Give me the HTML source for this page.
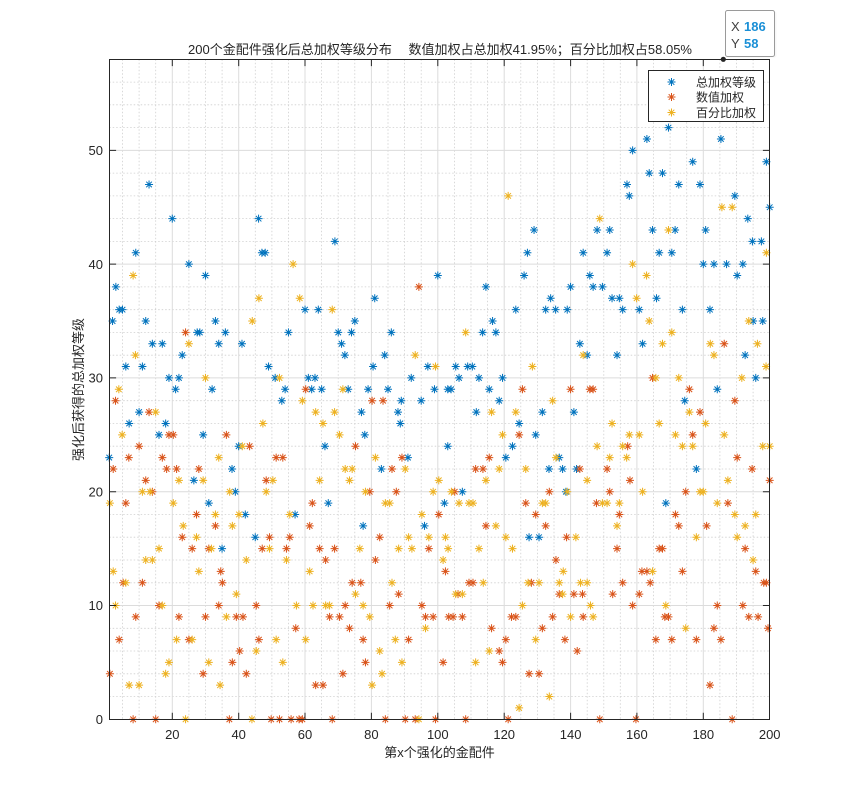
<!DOCTYPE html>
<html><head><meta charset="utf-8"><style>
html,body{margin:0;padding:0;background:#fff;}
svg{display:block;}
text{font-family:"Liberation Sans","Noto Sans CJK SC",sans-serif;fill:#262626;}
</style></head><body>
<svg width="849" height="807" viewBox="0 0 849 807" xmlns="http://www.w3.org/2000/svg">
<defs>
<path id="b" transform="scale(0.301295,-0.087881)" d="M-4 0H4M0-4V4M-2.8-2.8L2.8 2.8M-2.8 2.8L2.8-2.8" stroke="#0072BD" stroke-width="1" fill="none"/>
<path id="r" transform="scale(0.301295,-0.087881)" d="M-4 0H4M0-4V4M-2.8-2.8L2.8 2.8M-2.8 2.8L2.8-2.8" stroke="#D95319" stroke-width="1" fill="none"/>
<path id="y" transform="scale(0.301295,-0.087881)" d="M-4 0H4M0-4V4M-2.8-2.8L2.8 2.8M-2.8 2.8L2.8-2.8" stroke="#EDB120" stroke-width="1" fill="none"/>
</defs>
<rect x="0" y="0" width="849" height="807" fill="#fff"/>
<rect x="109.5" y="59.5" width="660" height="660" fill="#fff"/>
<!-- minor grid -->
<path fill="none" stroke="#cfcfcf" stroke-width="0.8" stroke-dasharray="1.5 2" d="M122.5 59.3V719.3M139.1 59.3V719.3M155.7 59.3V719.3M188.9 59.3V719.3M205.5 59.3V719.3M222.1 59.3V719.3M255.3 59.3V719.3M271.9 59.3V719.3M288.4 59.3V719.3M321.6 59.3V719.3M338.2 59.3V719.3M354.8 59.3V719.3M388 59.3V719.3M404.6 59.3V719.3M421.2 59.3V719.3M454.4 59.3V719.3M471 59.3V719.3M487.6 59.3V719.3M520.8 59.3V719.3M537.4 59.3V719.3M554 59.3V719.3M587.2 59.3V719.3M603.8 59.3V719.3M620.3 59.3V719.3M653.5 59.3V719.3M670.1 59.3V719.3M686.7 59.3V719.3M719.9 59.3V719.3M736.5 59.3V719.3M753.1 59.3V719.3
M109.2 696.5H769.7M109.2 673.8H769.7M109.2 651H769.7M109.2 628.3H769.7M109.2 582.8H769.7M109.2 560H769.7M109.2 537.2H769.7M109.2 514.5H769.7M109.2 469H769.7M109.2 446.2H769.7M109.2 423.4H769.7M109.2 400.7H769.7M109.2 355.2H769.7M109.2 332.4H769.7M109.2 309.7H769.7M109.2 286.9H769.7M109.2 241.4H769.7M109.2 218.6H769.7M109.2 195.9H769.7M109.2 173.1H769.7M109.2 127.6H769.7M109.2 104.8H769.7M109.2 82.1H769.7"/>
<!-- major grid -->
<path fill="none" stroke="#dcdcdc" stroke-width="1" d="M172.3 59.3V719.3M238.7 59.3V719.3M305 59.3V719.3M371.4 59.3V719.3M437.8 59.3V719.3M504.2 59.3V719.3M570.6 59.3V719.3M636.9 59.3V719.3M703.3 59.3V719.3M109.2 605.5H769.7M109.2 491.7H769.7M109.2 377.9H769.7M109.2 264.1H769.7M109.2 150.4H769.7"/>

<g transform="matrix(3.319 0 0 -11.379 105.9 719.3)">
<!-- blue -->
<use href="#b" x="1" y="23"/><use href="#b" x="2" y="35"/><use href="#b" x="3" y="38"/><use href="#b" x="4" y="36"/><use href="#b" x="5" y="36"/><use href="#b" x="6" y="31"/><use href="#b" x="7" y="26"/><use href="#b" x="9" y="41"/><use href="#b" x="10" y="27"/><use href="#b" x="11" y="31"/><use href="#b" x="12" y="35"/><use href="#b" x="13" y="47"/><use href="#b" x="14" y="33"/><use href="#b" x="16" y="25"/><use href="#b" x="17" y="33"/><use href="#b" x="18" y="26"/><use href="#b" x="19" y="30"/><use href="#b" x="20" y="44"/><use href="#b" x="21" y="29"/><use href="#b" x="22" y="30"/><use href="#b" x="23" y="32"/><use href="#b" x="25" y="40"/><use href="#b" x="26.5" y="21"/><use href="#b" x="27.5" y="34"/><use href="#b" x="28.3" y="34"/><use href="#b" x="29.3" y="25"/><use href="#b" x="30" y="39"/><use href="#b" x="31" y="19"/><use href="#b" x="32" y="29"/><use href="#b" x="33" y="35"/><use href="#b" x="34" y="33"/><use href="#b" x="35" y="15"/>
<use href="#b" x="36" y="34"/><use href="#b" x="38" y="22"/><use href="#b" x="39" y="20"/><use href="#b" x="40" y="24"/><use href="#b" x="41" y="33"/><use href="#b" x="42" y="18"/><use href="#b" x="45" y="16"/><use href="#b" x="46" y="44"/><use href="#b" x="47" y="41"/><use href="#b" x="48" y="41"/><use href="#b" x="49" y="31"/><use href="#b" x="51" y="30"/><use href="#b" x="53" y="28"/><use href="#b" x="54" y="29"/><use href="#b" x="55" y="34"/><use href="#b" x="57" y="18"/><use href="#b" x="60" y="36"/><use href="#b" x="61" y="30"/><use href="#b" x="62" y="29"/><use href="#b" x="63" y="30"/><use href="#b" x="64" y="36"/><use href="#b" x="65" y="29"/><use href="#b" x="66" y="24"/><use href="#b" x="67" y="19"/><use href="#b" x="69" y="42"/>
<use href="#b" x="70" y="34"/><use href="#b" x="71" y="33"/><use href="#b" x="72" y="32"/><use href="#b" x="73" y="29"/><use href="#b" x="74" y="34"/><use href="#b" x="75" y="35"/><use href="#b" x="77" y="27"/><use href="#b" x="77.5" y="17"/><use href="#b" x="78" y="25"/><use href="#b" x="79" y="29"/><use href="#b" x="80.5" y="31"/><use href="#b" x="81" y="37"/><use href="#b" x="83" y="22"/><use href="#b" x="84" y="32"/><use href="#b" x="85" y="29"/><use href="#b" x="86" y="34"/><use href="#b" x="88" y="27"/><use href="#b" x="88.7" y="26"/><use href="#b" x="89" y="28"/><use href="#b" x="91" y="23"/><use href="#b" x="92" y="30"/><use href="#b" x="95" y="28"/><use href="#b" x="96" y="17"/><use href="#b" x="97" y="31"/><use href="#b" x="99" y="29"/><use href="#b" x="100" y="39"/><use href="#b" x="102" y="19"/><use href="#b" x="103" y="29"/><use href="#b" x="103" y="24"/><use href="#b" x="104" y="29"/>
<use href="#b" x="105.4" y="31"/><use href="#b" x="106.4" y="30"/><use href="#b" x="107.4" y="20"/><use href="#b" x="109" y="31"/><use href="#b" x="110.4" y="31"/><use href="#b" x="111.6" y="27"/><use href="#b" x="112.4" y="30"/><use href="#b" x="113.5" y="34"/><use href="#b" x="114.5" y="38"/><use href="#b" x="115.5" y="29"/><use href="#b" x="116.5" y="35"/><use href="#b" x="117.5" y="34"/><use href="#b" x="118.5" y="28"/><use href="#b" x="119.5" y="30"/><use href="#b" x="120.5" y="23"/><use href="#b" x="122.5" y="24"/><use href="#b" x="123.5" y="36"/><use href="#b" x="124.5" y="26"/><use href="#b" x="126" y="39"/><use href="#b" x="127" y="41"/><use href="#b" x="127.5" y="16"/><use href="#b" x="129" y="43"/><use href="#b" x="129.5" y="25"/><use href="#b" x="130.5" y="16"/><use href="#b" x="131.5" y="27"/><use href="#b" x="132.5" y="36"/><use href="#b" x="133.5" y="22"/><use href="#b" x="134" y="37"/><use href="#b" x="135.5" y="36"/><use href="#b" x="136.6" y="23"/><use href="#b" x="137.6" y="22"/><use href="#b" x="138.6" y="20"/><use href="#b" x="139" y="36"/>
<use href="#b" x="140" y="38"/><use href="#b" x="141" y="27"/><use href="#b" x="141.8" y="22"/><use href="#b" x="142.8" y="33"/><use href="#b" x="143.8" y="41"/><use href="#b" x="145" y="32"/><use href="#b" x="145.8" y="39"/><use href="#b" x="146.8" y="38"/><use href="#b" x="148" y="43"/><use href="#b" x="149.6" y="38"/><use href="#b" x="151" y="41"/><use href="#b" x="151.8" y="43"/><use href="#b" x="152.5" y="37"/><use href="#b" x="154" y="32"/><use href="#b" x="154.7" y="37"/><use href="#b" x="155.7" y="36"/><use href="#b" x="157" y="47"/><use href="#b" x="157.7" y="46"/><use href="#b" x="158.7" y="50"/><use href="#b" x="160.7" y="36"/><use href="#b" x="161.7" y="33"/><use href="#b" x="163" y="51"/><use href="#b" x="163.7" y="48"/><use href="#b" x="164.7" y="43"/><use href="#b" x="165.9" y="37"/><use href="#b" x="166.7" y="41"/><use href="#b" x="167.7" y="48"/><use href="#b" x="168.7" y="19"/>
<use href="#b" x="169.5" y="52"/><use href="#b" x="170.5" y="41"/><use href="#b" x="171.5" y="43"/><use href="#b" x="172.6" y="47"/><use href="#b" x="173.7" y="36"/><use href="#b" x="174.4" y="28"/><use href="#b" x="176.8" y="49"/><use href="#b" x="177.9" y="22"/><use href="#b" x="179" y="47"/><use href="#b" x="180" y="40"/><use href="#b" x="180.7" y="43"/><use href="#b" x="182" y="36"/><use href="#b" x="183.2" y="40"/><use href="#b" x="184.2" y="29"/><use href="#b" x="185.3" y="51"/><use href="#b" x="187" y="40"/><use href="#b" x="189.5" y="46"/><use href="#b" x="190.2" y="39"/><use href="#b" x="191.9" y="40"/><use href="#b" x="192.6" y="32"/><use href="#b" x="193.4" y="44"/><use href="#b" x="194.8" y="42"/><use href="#b" x="195" y="35"/><use href="#b" x="195.8" y="30"/><use href="#b" x="197.5" y="42"/><use href="#b" x="197.9" y="35"/><use href="#b" x="199" y="49"/><use href="#b" x="200" y="45"/>
<!-- red -->
<use href="#r" x="1.2" y="4"/><use href="#r" x="2.2" y="22"/><use href="#r" x="2.9" y="28"/><use href="#r" x="4" y="7"/><use href="#r" x="5.2" y="12"/><use href="#r" x="6" y="19"/><use href="#r" x="6.9" y="23"/><use href="#r" x="8.2" y="0"/><use href="#r" x="9" y="9"/><use href="#r" x="10" y="24"/><use href="#r" x="11" y="12"/><use href="#r" x="12" y="21"/><use href="#r" x="13" y="27"/><use href="#r" x="14" y="20"/><use href="#r" x="15" y="0"/><use href="#r" x="16" y="10"/><use href="#r" x="17" y="23"/><use href="#r" x="18.3" y="22"/><use href="#r" x="19" y="25"/><use href="#r" x="20.3" y="25"/><use href="#r" x="21.3" y="22"/><use href="#r" x="22" y="9"/><use href="#r" x="23" y="16"/><use href="#r" x="24" y="34"/><use href="#r" x="25" y="7"/><use href="#r" x="26" y="15"/><use href="#r" x="27.3" y="18"/><use href="#r" x="28" y="22"/><use href="#r" x="29.3" y="4"/><use href="#r" x="30" y="9"/><use href="#r" x="31" y="15"/><use href="#r" x="33" y="17"/><use href="#r" x="34" y="10"/><use href="#r" x="34.6" y="13"/>
<use href="#r" x="35.1" y="12"/><use href="#r" x="36.3" y="25"/><use href="#r" x="37.2" y="0"/><use href="#r" x="38.1" y="5"/><use href="#r" x="39.3" y="9"/><use href="#r" x="40.3" y="6"/><use href="#r" x="41.3" y="9"/><use href="#r" x="42.3" y="4"/><use href="#r" x="43.3" y="24"/><use href="#r" x="45.3" y="10"/><use href="#r" x="46.1" y="7"/><use href="#r" x="47.1" y="15"/><use href="#r" x="48.3" y="21"/><use href="#r" x="49.3" y="16"/><use href="#r" x="49.8" y="0"/><use href="#r" x="51.3" y="23"/><use href="#r" x="52.3" y="0"/><use href="#r" x="53.3" y="23"/><use href="#r" x="54.4" y="15"/><use href="#r" x="55.4" y="16"/><use href="#r" x="55.8" y="0"/><use href="#r" x="57.2" y="8"/><use href="#r" x="58.2" y="0"/><use href="#r" x="59.2" y="0"/><use href="#r" x="60.2" y="29"/><use href="#r" x="61.4" y="17"/><use href="#r" x="62.2" y="19"/><use href="#r" x="63.2" y="3"/><use href="#r" x="64.4" y="15"/><use href="#r" x="65.4" y="3"/><use href="#r" x="66.2" y="14"/><use href="#r" x="67.4" y="9"/><use href="#r" x="68.2" y="0"/><use href="#r" x="68.9" y="15"/>
<use href="#r" x="70.4" y="9"/><use href="#r" x="71.4" y="4"/><use href="#r" x="72.1" y="10"/><use href="#r" x="73.4" y="8"/><use href="#r" x="74.2" y="12"/><use href="#r" x="75.2" y="24"/><use href="#r" x="76.8" y="12"/><use href="#r" x="77.5" y="7"/><use href="#r" x="78.2" y="5"/><use href="#r" x="79.5" y="20"/><use href="#r" x="80.2" y="28"/><use href="#r" x="81.2" y="14"/><use href="#r" x="82.5" y="16"/><use href="#r" x="83.5" y="28"/><use href="#r" x="84.2" y="0"/><use href="#r" x="85.5" y="10"/><use href="#r" x="86.2" y="22"/><use href="#r" x="87.5" y="20"/><use href="#r" x="88.2" y="11"/><use href="#r" x="89.2" y="23"/><use href="#r" x="90.2" y="0"/><use href="#r" x="91.2" y="7"/><use href="#r" x="93.2" y="0"/><use href="#r" x="94.3" y="38"/><use href="#r" x="95.2" y="10"/><use href="#r" x="96.3" y="9"/><use href="#r" x="97.3" y="15"/><use href="#r" x="98.6" y="9"/><use href="#r" x="99.3" y="0"/><use href="#r" x="100.3" y="18"/><use href="#r" x="101.6" y="5"/><use href="#r" x="102.3" y="13"/><use href="#r" x="103.3" y="9"/>
<use href="#r" x="104.6" y="9"/><use href="#r" x="105.1" y="20"/><use href="#r" x="106.1" y="11"/><use href="#r" x="107.4" y="9"/><use href="#r" x="108.4" y="0"/><use href="#r" x="109.4" y="12"/><use href="#r" x="110.6" y="12"/><use href="#r" x="111.4" y="22"/><use href="#r" x="113.6" y="22"/><use href="#r" x="114.5" y="17"/><use href="#r" x="115.5" y="23"/><use href="#r" x="116.2" y="8"/><use href="#r" x="118.5" y="6"/><use href="#r" x="119.5" y="5"/><use href="#r" x="120.5" y="7"/><use href="#r" x="121.2" y="0"/><use href="#r" x="122.2" y="9"/><use href="#r" x="123.5" y="9"/><use href="#r" x="124.5" y="25"/><use href="#r" x="125.5" y="29"/><use href="#r" x="126.5" y="19"/><use href="#r" x="127.5" y="4"/><use href="#r" x="128.2" y="12"/><use href="#r" x="129.5" y="18"/><use href="#r" x="130.5" y="4"/><use href="#r" x="131.5" y="8"/><use href="#r" x="132.5" y="17"/><use href="#r" x="133.6" y="20"/><use href="#r" x="134.6" y="9"/><use href="#r" x="135.6" y="14"/><use href="#r" x="136.6" y="11"/><use href="#r" x="138.3" y="7"/><use href="#r" x="138.8" y="16"/>
<use href="#r" x="140" y="29"/><use href="#r" x="141" y="11"/><use href="#r" x="142" y="6"/><use href="#r" x="142.8" y="22"/><use href="#r" x="143.6" y="11"/><use href="#r" x="143.8" y="9"/><use href="#r" x="145.8" y="29"/><use href="#r" x="146.8" y="29"/><use href="#r" x="147.8" y="19"/><use href="#r" x="148.8" y="0"/><use href="#r" x="151" y="22"/><use href="#r" x="151.8" y="20"/><use href="#r" x="152.7" y="11"/><use href="#r" x="154" y="15"/><use href="#r" x="154.7" y="18"/><use href="#r" x="155.7" y="12"/><use href="#r" x="157.2" y="24"/><use href="#r" x="157.9" y="21"/><use href="#r" x="158.7" y="10"/><use href="#r" x="159.7" y="0"/><use href="#r" x="160.7" y="11"/><use href="#r" x="161.5" y="13"/><use href="#r" x="163" y="13"/><use href="#r" x="164" y="12"/><use href="#r" x="164.7" y="30"/><use href="#r" x="165.7" y="7"/><use href="#r" x="166.7" y="15"/><use href="#r" x="167.7" y="15"/>
<use href="#r" x="168.4" y="9"/><use href="#r" x="169.5" y="9"/><use href="#r" x="170.5" y="7"/><use href="#r" x="171.6" y="18"/><use href="#r" x="172.6" y="17"/><use href="#r" x="173.7" y="13"/><use href="#r" x="174.7" y="20"/><use href="#r" x="175.8" y="29"/><use href="#r" x="176.8" y="25"/><use href="#r" x="177.9" y="7"/><use href="#r" x="179" y="27"/><use href="#r" x="181" y="17"/><use href="#r" x="182" y="3"/><use href="#r" x="183.2" y="8"/><use href="#r" x="184.2" y="10"/><use href="#r" x="185.3" y="7"/><use href="#r" x="186.3" y="33"/><use href="#r" x="187.4" y="19"/><use href="#r" x="188.7" y="0"/><use href="#r" x="189.5" y="28"/><use href="#r" x="190.2" y="23"/><use href="#r" x="191.9" y="10"/><use href="#r" x="192.6" y="15"/><use href="#r" x="193.7" y="9"/><use href="#r" x="194.7" y="22"/><use href="#r" x="195.8" y="13"/><use href="#r" x="196.5" y="9"/><use href="#r" x="198.2" y="12"/><use href="#r" x="199" y="12"/><use href="#r" x="199.5" y="8"/><use href="#r" x="200" y="21"/>
<!-- yellow -->
<use href="#y" x="1.2" y="19"/><use href="#y" x="2.2" y="13"/><use href="#y" x="2.9" y="10"/><use href="#y" x="3.9" y="29"/><use href="#y" x="4.9" y="25"/><use href="#y" x="6" y="12"/><use href="#y" x="7" y="3"/><use href="#y" x="8.2" y="39"/><use href="#y" x="8.9" y="32"/><use href="#y" x="10" y="3"/><use href="#y" x="11" y="20"/><use href="#y" x="12" y="14"/><use href="#y" x="13.3" y="20"/><use href="#y" x="14" y="14"/><use href="#y" x="15" y="27"/><use href="#y" x="16" y="15"/><use href="#y" x="17" y="10"/><use href="#y" x="18" y="4"/><use href="#y" x="19" y="5"/><use href="#y" x="20.3" y="19"/><use href="#y" x="21.3" y="7"/><use href="#y" x="22" y="21"/><use href="#y" x="23.3" y="17"/><use href="#y" x="24" y="0"/><use href="#y" x="25" y="33"/><use href="#y" x="26" y="7"/><use href="#y" x="27.3" y="16"/><use href="#y" x="28" y="13"/><use href="#y" x="29.3" y="21"/><use href="#y" x="30" y="30"/><use href="#y" x="31" y="5"/><use href="#y" x="31.8" y="15"/><use href="#y" x="33" y="18"/><use href="#y" x="34" y="23"/><use href="#y" x="34.4" y="3"/>
<use href="#y" x="36.3" y="9"/><use href="#y" x="37.3" y="20"/><use href="#y" x="38.1" y="17"/><use href="#y" x="39.3" y="11"/><use href="#y" x="40.1" y="18"/><use href="#y" x="41.1" y="24"/><use href="#y" x="42.3" y="14"/><use href="#y" x="44" y="0"/><use href="#y" x="44.1" y="35"/><use href="#y" x="45.3" y="6"/><use href="#y" x="46.1" y="37"/><use href="#y" x="47.3" y="26"/><use href="#y" x="48.3" y="20"/><use href="#y" x="49.3" y="15"/><use href="#y" x="50.3" y="21"/><use href="#y" x="51.3" y="7"/><use href="#y" x="52.3" y="30"/><use href="#y" x="53.3" y="5"/><use href="#y" x="54.4" y="14"/><use href="#y" x="55.4" y="18"/><use href="#y" x="56.4" y="40"/><use href="#y" x="57.4" y="10"/><use href="#y" x="58.4" y="37"/><use href="#y" x="59.2" y="28"/><use href="#y" x="60.2" y="7"/><use href="#y" x="61.4" y="13"/><use href="#y" x="62.4" y="10"/><use href="#y" x="63.2" y="27"/><use href="#y" x="64.4" y="21"/><use href="#y" x="65.4" y="26"/><use href="#y" x="66.2" y="10"/><use href="#y" x="67.4" y="10"/><use href="#y" x="68.2" y="36"/><use href="#y" x="68.9" y="27"/>
<use href="#y" x="70.4" y="25"/><use href="#y" x="71.4" y="29"/><use href="#y" x="72.1" y="22"/><use href="#y" x="73.4" y="21"/><use href="#y" x="74.2" y="22"/><use href="#y" x="75.2" y="11"/><use href="#y" x="76.5" y="15"/><use href="#y" x="77.5" y="10"/><use href="#y" x="78.2" y="20"/><use href="#y" x="79.5" y="9"/><use href="#y" x="80.2" y="3"/><use href="#y" x="81.2" y="23"/><use href="#y" x="82.5" y="6"/><use href="#y" x="83.2" y="4"/><use href="#y" x="84.2" y="19"/><use href="#y" x="85.5" y="19"/><use href="#y" x="86.2" y="12"/><use href="#y" x="87.2" y="7"/><use href="#y" x="88.2" y="15"/><use href="#y" x="89.2" y="5"/><use href="#y" x="90.2" y="22"/><use href="#y" x="91.2" y="16"/><use href="#y" x="92.2" y="15"/><use href="#y" x="93.2" y="32"/><use href="#y" x="94.3" y="0"/><use href="#y" x="95.2" y="18"/><use href="#y" x="96.3" y="8"/><use href="#y" x="97.3" y="16"/><use href="#y" x="98.6" y="20"/><use href="#y" x="99.3" y="31"/><use href="#y" x="100.3" y="21"/><use href="#y" x="101.6" y="14"/><use href="#y" x="102.3" y="16"/><use href="#y" x="103.1" y="15"/><use href="#y" x="104.1" y="20"/>
<use href="#y" x="105.4" y="11"/><use href="#y" x="106.4" y="19"/><use href="#y" x="107.4" y="11"/><use href="#y" x="108.4" y="34"/><use href="#y" x="109.4" y="19"/><use href="#y" x="110.6" y="19"/><use href="#y" x="111.4" y="5"/><use href="#y" x="112.4" y="15"/><use href="#y" x="113.7" y="12"/><use href="#y" x="114.5" y="21"/><use href="#y" x="115.5" y="6"/><use href="#y" x="116.2" y="27"/><use href="#y" x="117.5" y="17"/><use href="#y" x="118.5" y="22"/><use href="#y" x="119.5" y="25"/><use href="#y" x="120.5" y="16"/><use href="#y" x="121.2" y="46"/><use href="#y" x="122.5" y="15"/><use href="#y" x="123.5" y="27"/><use href="#y" x="124.5" y="1"/><use href="#y" x="125.5" y="10"/><use href="#y" x="126.5" y="22"/><use href="#y" x="127.2" y="12"/><use href="#y" x="128.5" y="31"/><use href="#y" x="129.5" y="7"/><use href="#y" x="130.5" y="12"/><use href="#y" x="131.5" y="19"/><use href="#y" x="132.5" y="19"/><use href="#y" x="133.6" y="2"/><use href="#y" x="134.6" y="28"/><use href="#y" x="135.6" y="23"/><use href="#y" x="136.6" y="12"/><use href="#y" x="137.6" y="11"/><use href="#y" x="137.8" y="13"/>
<use href="#y" x="139" y="20"/><use href="#y" x="140" y="9"/><use href="#y" x="141.6" y="16"/><use href="#y" x="143" y="12"/><use href="#y" x="143.8" y="32"/><use href="#y" x="145" y="21"/><use href="#y" x="145" y="12"/><use href="#y" x="146" y="10"/><use href="#y" x="146.8" y="9"/><use href="#y" x="148" y="24"/><use href="#y" x="148.8" y="44"/><use href="#y" x="149.6" y="19"/><use href="#y" x="151" y="19"/><use href="#y" x="151.8" y="23"/><use href="#y" x="152.5" y="26"/><use href="#y" x="154" y="17"/><use href="#y" x="154.7" y="19"/><use href="#y" x="155.7" y="24"/><use href="#y" x="156.9" y="23"/><use href="#y" x="157.7" y="25"/><use href="#y" x="158.7" y="40"/><use href="#y" x="159.9" y="37"/><use href="#y" x="160.7" y="25"/><use href="#y" x="161.7" y="20"/><use href="#y" x="162.9" y="39"/><use href="#y" x="163.7" y="35"/><use href="#y" x="164.7" y="13"/><use href="#y" x="165.7" y="30"/><use href="#y" x="166.7" y="26"/><use href="#y" x="167.7" y="33"/><use href="#y" x="168.7" y="10"/>
<use href="#y" x="169.5" y="43"/><use href="#y" x="170.5" y="34"/><use href="#y" x="171.6" y="25"/><use href="#y" x="172.6" y="30"/><use href="#y" x="173.7" y="24"/><use href="#y" x="174.7" y="8"/><use href="#y" x="175.8" y="27"/><use href="#y" x="176.8" y="24"/><use href="#y" x="177.9" y="16"/><use href="#y" x="179" y="20"/><use href="#y" x="180" y="20"/><use href="#y" x="180.7" y="26"/><use href="#y" x="182.1" y="33"/><use href="#y" x="183.2" y="32"/><use href="#y" x="184.2" y="19"/><use href="#y" x="185.6" y="45"/><use href="#y" x="186.3" y="25"/><use href="#y" x="187.4" y="21"/><use href="#y" x="188.7" y="45"/><use href="#y" x="189.5" y="18"/><use href="#y" x="190.2" y="16"/><use href="#y" x="191.6" y="30"/><use href="#y" x="192.6" y="17"/><use href="#y" x="193.7" y="35"/><use href="#y" x="195" y="14"/><use href="#y" x="195.8" y="18"/><use href="#y" x="196.3" y="33"/><use href="#y" x="197.9" y="24"/><use href="#y" x="198.9" y="31"/><use href="#y" x="199" y="41"/><use href="#y" x="200" y="24"/>
</g>

<!-- axes box and ticks -->
<rect x="109.5" y="59.5" width="660" height="660" fill="none" stroke="#262626" stroke-width="1"/>
<path fill="none" stroke="#262626" stroke-width="1" d="M172.3 719.3v-6.6M238.7 719.3v-6.6M305 719.3v-6.6M371.4 719.3v-6.6M437.8 719.3v-6.6M504.2 719.3v-6.6M570.6 719.3v-6.6M636.9 719.3v-6.6M703.3 719.3v-6.6
M172.3 59.5v6.6M238.7 59.5v6.6M305 59.5v6.6M371.4 59.5v6.6M437.8 59.5v6.6M504.2 59.5v6.6M570.6 59.5v6.6M636.9 59.5v6.6M703.3 59.5v6.6
M109.5 605.5h6.6M109.5 491.7h6.6M109.5 377.9h6.6M109.5 264.1h6.6M109.5 150.4h6.6
M769.5 605.5h-6.6M769.5 491.7h-6.6M769.5 377.9h-6.6M769.5 264.1h-6.6M769.5 150.4h-6.6"/>

<!-- tick labels -->
<g font-size="13" text-anchor="middle">
<text x="172.3" y="739">20</text><text x="238.7" y="739">40</text><text x="305" y="739">60</text><text x="371.4" y="739">80</text><text x="437.8" y="739">100</text><text x="504.2" y="739">120</text><text x="570.6" y="739">140</text><text x="636.9" y="739">160</text><text x="703.3" y="739">180</text><text x="769.7" y="739">200</text>
</g>
<g font-size="13" text-anchor="end">
<text x="103" y="724">0</text><text x="103" y="610.2">10</text><text x="103" y="496.4">20</text><text x="103" y="382.6">30</text><text x="103" y="268.8">40</text><text x="103" y="155">50</text>
</g>

<!-- title and labels -->
<text x="440" y="54" font-size="13" text-anchor="middle" textLength="504" lengthAdjust="spacingAndGlyphs">200个金配件强化后总加权等级分布　 数值加权占总加权41.95%；百分比加权占58.05%</text>
<text x="439.5" y="757" font-size="13" text-anchor="middle">第x个强化的金配件</text>
<text transform="translate(83,389.5) rotate(-90)" font-size="13" text-anchor="middle">强化后获得的总加权等级</text>

<!-- legend -->
<rect x="648.5" y="70.5" width="115" height="51" fill="#fff" stroke="#262626" stroke-width="1"/>
<g fill="none" stroke-width="1">
<path stroke="#0072BD" transform="translate(671.5,82)" d="M-4 0H4M0-4V4M-2.8-2.8L2.8 2.8M-2.8 2.8L2.8-2.8"/>
<path stroke="#D95319" transform="translate(671.5,97)" d="M-4 0H4M0-4V4M-2.8-2.8L2.8 2.8M-2.8 2.8L2.8-2.8"/>
<path stroke="#EDB120" transform="translate(671.5,112.5)" d="M-4 0H4M0-4V4M-2.8-2.8L2.8 2.8M-2.8 2.8L2.8-2.8"/>
</g>
<g font-size="12">
<text x="696" y="86.5">总加权等级</text>
<text x="696" y="101.5">数值加权</text>
<text x="696" y="117">百分比加权</text>
</g>

<!-- datatip -->
<rect x="726.5" y="11.5" width="50" height="46" rx="2" fill="#f2f2f2" opacity="0.6"/>
<rect x="725.5" y="10.5" width="49" height="46" rx="2" fill="#fff" stroke="#9a9a9a" stroke-width="1"/>
<circle cx="723.3" cy="59.3" r="2.6" fill="#262626"/>
<text x="731" y="31" font-size="13" style="fill:#404040">X</text>
<text x="744" y="31" font-size="13" font-weight="bold" style="fill:#1a8fd6">186</text>
<text x="731" y="48" font-size="13" style="fill:#404040">Y</text>
<text x="744" y="48" font-size="13" font-weight="bold" style="fill:#1a8fd6">58</text>
</svg>
</body></html>
